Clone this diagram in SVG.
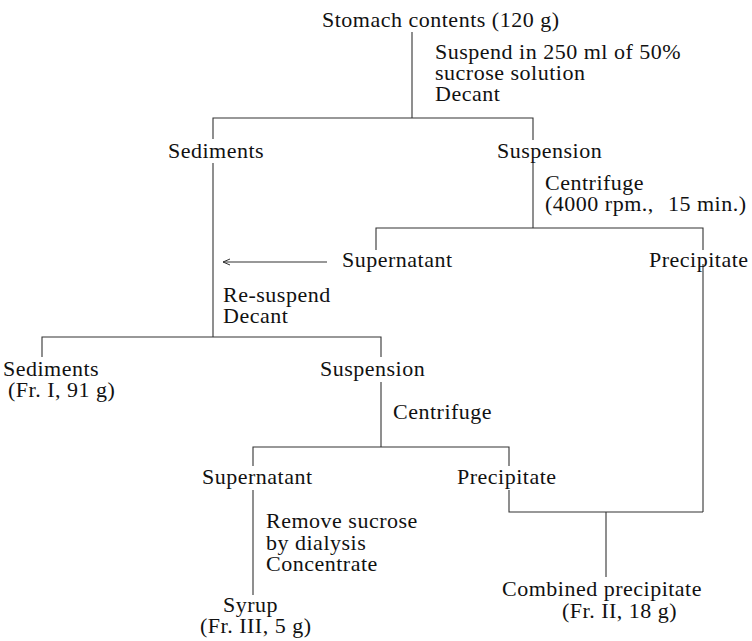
<svg xmlns="http://www.w3.org/2000/svg" width="752" height="641" viewBox="0 0 752 641">
<style>
text{font-family:"Liberation Serif","Times New Roman",serif;font-size:22px;fill:#111;letter-spacing:0.5px}
.c{fill:none;stroke:#333;stroke-width:1.1}
</style>
<defs>
<marker id="ah" markerWidth="10" markerHeight="8" refX="8" refY="4" orient="auto" markerUnits="userSpaceOnUse">
<path d="M1,1 L8,4 L1,7" fill="none" stroke="#333" stroke-width="1"/>
</marker>
</defs>
<rect width="752" height="641" fill="#fff"/>
<g id="connectors">
<line class="c" x1="412" y1="32" x2="412" y2="118"/>
<polyline class="c" points="213,139 213,118 533,118 533,140"/>
<line class="c" x1="213" y1="163" x2="213" y2="337"/>
<line class="c" x1="533" y1="163" x2="533" y2="228"/>
<polyline class="c" points="376,250 376,228 703,228 703,250"/>
<line class="c" x1="327" y1="262" x2="223" y2="262" marker-end="url(#ah)"/>
<polyline class="c" points="42,357 42,337 381,337 381,357"/>
<line class="c" x1="381" y1="382" x2="381" y2="447"/>
<polyline class="c" points="253,466 253,447 509,447 509,466"/>
<line class="c" x1="703" y1="264" x2="703" y2="512"/>
<polyline class="c" points="509,490 509,512 703,512"/>
<line class="c" x1="606" y1="512" x2="606" y2="577"/>
<line class="c" x1="253" y1="490" x2="253" y2="595"/>
</g>
<g id="stomach"><text x="322" y="27">Stomach contents (120 g)</text></g>
<g id="step-suspend"><text x="435" y="59">Suspend in 250 ml of 50%</text><text x="435" y="80">sucrose solution</text><text x="435" y="101">Decant</text></g>
<g id="sediments1"><text x="168" y="158">Sediments</text></g>
<g id="suspension1"><text x="497" y="158">Suspension</text></g>
<g id="step-centrifuge1"><text x="545" y="190">Centrifuge</text><text x="545" y="211">(4000 rpm.,<tspan x="668">15 min.)</tspan></text></g>
<g id="supernatant1"><text x="342" y="267">Supernatant</text></g>
<g id="precipitate1"><text x="649" y="267">Precipitate</text></g>
<g id="step-resuspend"><text x="223" y="302">Re-suspend</text><text x="223" y="323">Decant</text></g>
<g id="sediments2"><text x="3" y="376">Sediments</text><text x="8" y="397">(Fr. I, 91 g)</text></g>
<g id="suspension2"><text x="320" y="376">Suspension</text></g>
<g id="step-centrifuge2"><text x="393" y="419">Centrifuge</text></g>
<g id="supernatant2"><text x="202" y="484">Supernatant</text></g>
<g id="precipitate2"><text x="457" y="484">Precipitate</text></g>
<g id="step-dialysis"><text x="266" y="528">Remove sucrose</text><text x="266" y="550">by dialysis</text><text x="266" y="571">Concentrate</text></g>
<g id="syrup"><text x="223" y="612">Syrup</text><text x="200" y="633">(Fr. III, 5 g)</text></g>
<g id="combined"><text x="502" y="596">Combined precipitate</text><text x="562" y="618">(Fr. II, 18 g)</text></g>
</svg>
